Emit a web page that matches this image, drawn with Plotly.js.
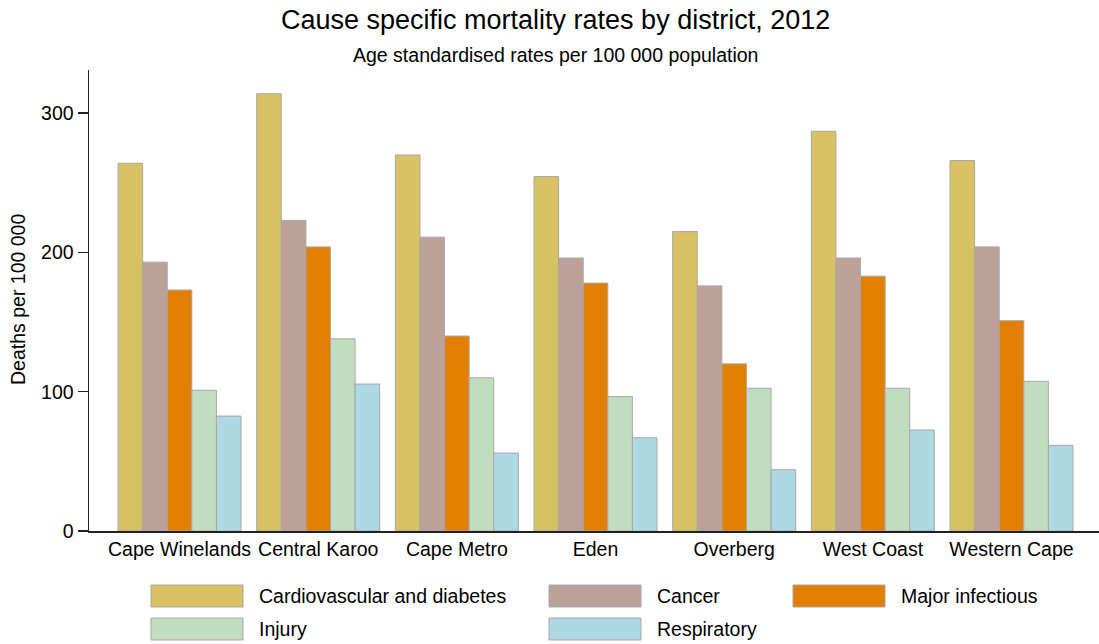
<!DOCTYPE html>
<html>
<head>
<meta charset="utf-8">
<script src="https://cdn.plot.ly/plotly-3.0.1.min.js"></script>
<style>html,body{margin:0;padding:0;background:#fff;}#chart{width:1099px;height:644px;}</style>
</head>
<body>
<div id="chart"></div>
<script>
const districts = ["Cape Winelands", "Central Karoo", "Cape Metro", "Eden", "Overberg", "West Coast", "Western Cape"];
const causes = ["Cardiovascular and diabetes", "Cancer", "Major infectious", "Injury", "Respiratory"];
const cardiovascular = [264, 314, 270, 254.5, 215, 287, 266];
const cancer = [193, 223, 211, 196, 176, 196, 204];
const majorInfectious = [173, 204, 140, 178, 120, 183, 151];
const injury = [101, 138, 110, 96.5, 102.5, 102.5, 107.5];
const respiratory = [82.5, 105.5, 56, 67, 44, 72.5, 61.5];
const colors = ["#D8C263", "#BCA09A", "#E27F00", "#C0DDC0", "#ADD8E4"];

const seriesValues = [cardiovascular, cancer, majorInfectious, injury, respiratory];
const font = "Liberation Sans, Arial, sans-serif";
const fs = 19.5;

const traces = seriesValues.map((vals, i) => ({
  type: "bar",
  name: causes[i],
  x: districts,
  y: vals,
  marker: {color: colors[i], line: {color: "#A8A8A8", width: 1}},
  showlegend: false,
  hoverinfo: "x+y+name"
}));

// custom legend (large swatches) in pixel-based paper coords
const W = 1099, H = 644, L = 89, R = 0, T = 70, B = 113;
const pw = W - L - R, ph = H - T - B;
const px = x => (x - L) / pw;
const py = y => (H - B - y) / ph;
const legendPos = [
  {sx: 151, y: 596}, {sx: 549, y: 596}, {sx: 793, y: 596},
  {sx: 151, y: 629}, {sx: 549, y: 629}
];
const shapes = [];
const annotations = [];
causes.forEach((c, i) => {
  const p = legendPos[i];
  shapes.push({type: "rect", xref: "paper", yref: "paper",
    x0: px(p.sx), x1: px(p.sx + 92), y0: py(p.y + 11), y1: py(p.y - 11),
    fillcolor: colors[i], line: {color: "#A8A8A8", width: 1}});
  annotations.push({xref: "paper", yref: "paper", x: px(p.sx + 106), y: py(p.y),
    xanchor: "left", yanchor: "middle", text: c, showarrow: false,
    font: {family: font, size: fs, color: "#000"}});
});
annotations.push({xref: "paper", yref: "paper", x: px(555), y: py(20),
  xanchor: "center", yanchor: "middle", text: "Cause specific mortality rates by district, 2012",
  showarrow: false, font: {family: font, size: 27, color: "#000"}});
annotations.push({xref: "paper", yref: "paper", x: px(555), y: py(55),
  xanchor: "center", yanchor: "middle", text: "Age standardised rates per 100 000 population",
  showarrow: false, font: {family: font, size: fs, color: "#000"}});
annotations.push({xref: "paper", yref: "paper", x: px(18), y: py(300),
  xanchor: "center", yanchor: "middle", text: "Deaths per 100 000", textangle: -90,
  showarrow: false, font: {family: font, size: fs, color: "#000"}});

const layout = {
  width: W, height: H,
  margin: {l: L, r: R, t: T, b: B, pad: 0},
  paper_bgcolor: "#fff", plot_bgcolor: "#fff",
  barmode: "group", bargap: 0.113, bargroupgap: 0,
  font: {family: font, size: fs, color: "#000"},
  xaxis: {type: "category", range: [-0.653, 6.631], showline: true, linecolor: "#222", linewidth: 1.5,
    ticks: "", showgrid: false, zeroline: false, tickfont: {family: font, size: fs}, fixedrange: true},
  yaxis: {range: [0, 331], tickvals: [0, 100, 200, 300], showline: true, linecolor: "#222", linewidth: 1.5,
    ticks: "outside", ticklen: 10, tickwidth: 1.5, tickcolor: "#222", showgrid: false, zeroline: false,
    tickfont: {family: font, size: fs}, fixedrange: true},
  shapes: shapes,
  annotations: annotations
};

Plotly.newPlot("chart", traces, layout, {displayModeBar: false, staticPlot: true});
</script>
</body>
</html>
